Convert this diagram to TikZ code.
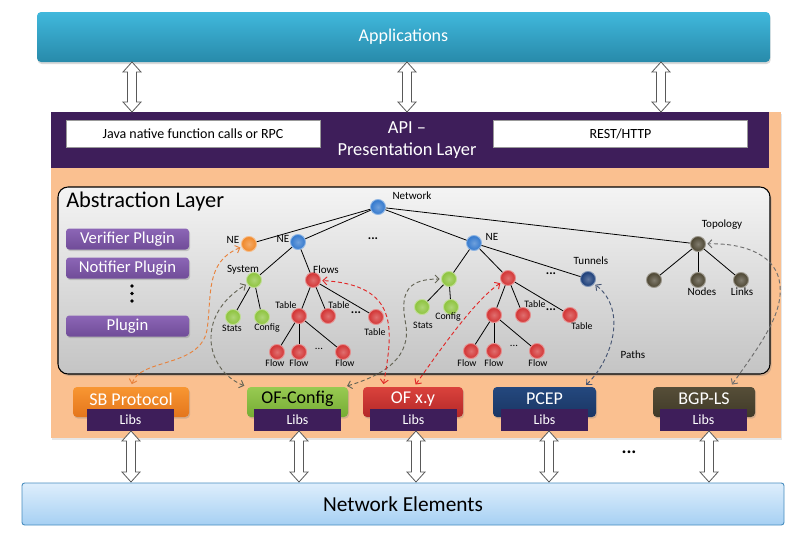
\documentclass[tikz,border=0pt]{standalone}
\usepackage{fontspec}
\setmainfont{Carlito}
\usetikzlibrary{arrows.meta,calc,shadows}
\definecolor{appTop}{RGB}{64,184,220}
\definecolor{appBot}{RGB}{40,138,170}
\definecolor{peach}{RGB}{250,192,144}
\definecolor{apiPurple}{RGB}{62,30,90}
\definecolor{plugTop}{RGB}{140,102,182}
\definecolor{plugBot}{RGB}{112,76,152}
\definecolor{nBlue}{RGB}{50,120,205}
\definecolor{nOrange}{RGB}{240,135,40}
\definecolor{nGreen}{RGB}{140,195,60}
\definecolor{nRed}{RGB}{210,50,50}
\definecolor{nNavy}{RGB}{25,60,120}
\definecolor{nOlive}{RGB}{75,68,48}
\definecolor{neTop}{RGB}{222,238,252}
\definecolor{neBot}{RGB}{166,208,243}
\definecolor{neBorder}{RGB}{70,140,190}
\definecolor{absTop}{RGB}{244,244,244}
\definecolor{absBot}{RGB}{196,196,196}
\definecolor{cOrange}{RGB}{232,130,60}
\definecolor{cGray}{RGB}{100,100,85}
\definecolor{cRed}{RGB}{225,40,40}
\definecolor{cNavy}{RGB}{70,85,115}
\definecolor{cGray2}{RGB}{110,110,110}
\newcommand\DblArr[3]{%
  \draw[dblarrow] (#1,#2) -- (#1+9,#2+10) -- (#1+4.5,#2+10) -- (#1+4.5,#3-10) -- (#1+9,#3-10)
    -- (#1,#3) -- (#1-9,#3-10) -- (#1-4.5,#3-10) -- (#1-4.5,#2+10) -- (#1-9,#2+10) -- cycle;}
\begin{document}
\begin{tikzpicture}[x=0.75pt,y=-0.75pt,
  tnode/.style={circle, inner sep=0, minimum size=11.25pt, draw=#1!55!white, line width=0.7pt,
    inner color=#1!70!white, outer color=#1},
  tlabel/.style={font=\fontsize{8.3}{10}\selectfont, inner sep=0},
  slabel/.style={font=\fontsize{7.4}{9}\selectfont, inner sep=0},
  edge/.style={line width=0.6pt, black},
  dblarrow/.style={draw=black!65, fill=white, line width=0.6pt},
  plugin/.style={rounded corners=2.5pt, top color=plugTop, bottom color=plugBot, minimum width=92.25pt,
    minimum height=15.75pt, inner sep=0, text=white, font=\fontsize{12.5}{14}\selectfont,
    drop shadow={opacity=0.35, shadow xshift=0.8pt, shadow yshift=-1.2pt}},
  proto/.style={rounded corners=3pt, minimum height=22.5pt, inner sep=0,
    drop shadow={opacity=0.3, shadow xshift=0.8pt, shadow yshift=-1.2pt}},
  ptext/.style={font=\fontsize{13.5}{15}\selectfont, inner sep=0},
  libs/.style={fill=apiPurple, minimum width=65.25pt, minimum height=16.5pt, inner sep=0,
    text=white, font=\fontsize{10.5}{12}\selectfont},
  dconn/.style={line width=0.7pt, dash pattern=on 3pt off 2pt,
    {Straight Barb[length=3pt,width=6pt]}-{Straight Barb[length=3pt,width=6pt]},
    shorten <=2pt, shorten >=1pt},
  dots/.style={font=\bfseries\fontsize{9.5}{10}\selectfont, inner sep=0},
  ldots/.style={font=\fontsize{8}{9}\selectfont, inner sep=0}
]
\useasboundingbox (0,0) rectangle (796,532);

% Applications
\node[rounded corners=3pt, top color=appTop, bottom color=appBot, minimum width=549.75pt, minimum height=37.5pt,
  inner sep=0, text=white, font=\fontsize{13.5}{16}\selectfont,
  drop shadow={opacity=0.3, shadow xshift=0.5pt, shadow yshift=-1.5pt}] (apps) at (403.5,37) {Applications};

% orange panel
\fill[peach, drop shadow={opacity=0.2, shadow xshift=1pt, shadow yshift=-1.2pt}] (51,112) rectangle (781,438);

% API layer
\node[fill=apiPurple, minimum width=538.5pt, minimum height=42pt, inner sep=0] (api) at (410,140) {};
\node[text=white, align=center, font=\fontsize{13.8}{16.5}\selectfont, inner sep=0] (apit) at (407,140) {API --\\Presentation Layer};
\node[fill=white, draw=black!40, line width=0.4pt, minimum width=190.5pt, minimum height=20.25pt, inner sep=0,
  font=\fontsize{10.5}{12}\selectfont] (java) at (193,133.5) {Java native function calls or RPC};
\node[fill=white, draw=black!40, line width=0.4pt, minimum width=190.5pt, minimum height=20.25pt, inner sep=0,
  font=\fontsize{10.5}{12}\selectfont] (rest) at (620.5,133.5) {REST/HTTP};

% top double arrows
\DblArr{132}{62}{112}
\DblArr{407}{62}{112}
\DblArr{661}{62}{112}

% Abstraction layer
\node[rounded corners=7.5pt, draw=black, line width=0.8pt, top color=absTop, bottom color=absBot,
  minimum width=534pt, minimum height=140.25pt, inner sep=0,
  drop shadow={opacity=0.35, shadow xshift=1.2pt, shadow yshift=-1.5pt}] (abs) at (414,280.5) {};
\node[anchor=west, font=\fontsize{16.8}{19}\selectfont, inner sep=0] (abst) at (66,202) {Abstraction Layer};

% plugins
\node[plugin] (p1) at (127.5,239) {Verifier Plugin};
\node[plugin] (p2) at (127.5,268) {Notifier Plugin};
\node[plugin] (p3) at (127.5,326) {Plugin};
\fill (132,286) circle (1.9);
\fill (132,293.5) circle (1.9);
\fill (132,301) circle (1.9);

% tree nodes
\node[tnode=nBlue] (net) at (378,207) {};
\node[tnode=nOrange] (neo) at (249,244) {};
\node[tnode=nBlue] (ne1) at (298,242) {};
\node[tnode=nGreen] (sys) at (254,280) {};
\node[tnode=nRed] (flo) at (313,280) {};
\node[tnode=nGreen] (st1) at (233,317) {};
\node[tnode=nGreen] (cf1) at (262,317) {};
\node[tnode=nRed] (ta1) at (299,316) {};
\node[tnode=nRed] (ta2) at (328,316) {};
\node[tnode=nRed] (ta3) at (376,317) {};
\node[tnode=nRed] (fl1) at (277,352) {};
\node[tnode=nRed] (fl2) at (299,352) {};
\node[tnode=nRed] (fl3) at (343,352) {};
\node[tnode=nBlue] (ne2) at (474,243) {};
\node[tnode=nGreen] (gr2) at (449,279) {};
\node[tnode=nRed] (rd2) at (508,278) {};
\node[tnode=nNavy] (tun) at (588,279) {};
\node[tnode=nGreen] (st2) at (422,307) {};
\node[tnode=nGreen] (cf2) at (451,307) {};
\node[tnode=nRed] (tb1) at (494,315) {};
\node[tnode=nRed] (tb2) at (523,315) {};
\node[tnode=nRed] (tb3) at (570,315) {};
\node[tnode=nRed] (fw1) at (471,351) {};
\node[tnode=nRed] (fw2) at (494,351) {};
\node[tnode=nRed] (fw3) at (537,351) {};
\node[tnode=nOlive] (top) at (698,244) {};
\node[tnode=nOlive] (tp1) at (654,280) {};
\node[tnode=nOlive] (tp2) at (698,280) {};
\node[tnode=nOlive] (tp3) at (741,280) {};

% tree edges
\draw[edge] (net) -- (neo);
\draw[edge] (net) -- (ne1);
\draw[edge] (net) -- (ne2);
\draw[edge] (net) -- (top);
\draw[edge] (ne1) -- (sys);
\draw[edge] (ne1) -- (flo);
\draw[edge] (sys) -- (st1);
\draw[edge] (sys) -- (cf1);
\draw[edge] (flo) -- (ta1);
\draw[edge] (flo) -- (ta2);
\draw[edge] (flo) -- (ta3);
\draw[edge] (ta1) -- (fl1);
\draw[edge] (ta1) -- (fl2);
\draw[edge] (ta1) -- (fl3);
\draw[edge] (ne2) -- (gr2);
\draw[edge] (ne2) -- (rd2);
\draw[edge] (ne2) -- (tun);
\draw[edge] (gr2) -- (st2);
\draw[edge] (gr2) -- (cf2);
\draw[edge] (rd2) -- (tb1);
\draw[edge] (rd2) -- (tb2);
\draw[edge] (rd2) -- (tb3);
\draw[edge] (tb1) -- (fw1);
\draw[edge] (tb1) -- (fw2);
\draw[edge] (tb1) -- (fw3);
\draw[edge] (top) -- (tp1);
\draw[edge] (top) -- (tp2);
\draw[edge] (top) -- (tp3);

% tree labels
\node[tlabel] (lnet) at (412,196) {Network};
\node[tlabel] (lneo) at (233,240) {NE};
\node[tlabel] (lne1) at (283,239) {NE};
\node[dots] (d1) at (373,239) {...};
\node[tlabel] (lsys) at (243,270) {System};
\node[tlabel] (lflo) at (326,270) {Flows};
\node[slabel] (lst1) at (232,328) {Stats};
\node[slabel] (lcf1) at (267,328) {Config};
\node[slabel] (lta1) at (286,305) {Table};
\node[slabel] (lta2) at (339,305) {Table};
\node[dots] (d2) at (356,313) {...};
\node[slabel] (lta3) at (375,332) {Table};
\node[slabel] (lfl1) at (275,363) {Flow};
\node[slabel] (lfl2) at (299,363) {Flow};
\node[slabel] (lfl3) at (345,363) {Flow};
\node[ldots] (d3) at (319,349) {...};
\node[tlabel] (lne2) at (492,237) {NE};
\node[slabel] (lst2) at (423,325) {Stats};
\node[slabel] (lcf2) at (448,317) {Config};
\node[dots] (d4) at (551,274) {...};
\node[slabel] (ltb2) at (535,304) {Table};
\node[dots] (d5) at (551,310) {...};
\node[slabel] (ltb3) at (582,326) {Table};
\node[slabel] (lfw1) at (467,363) {Flow};
\node[slabel] (lfw2) at (494,363) {Flow};
\node[slabel] (lfw3) at (538,363) {Flow};
\node[ldots] (d6) at (514,346) {...};
\node[tlabel] (ltun) at (591,261) {Tunnels};
\node[tlabel] (ltop) at (722,225) {Topology};
\node[tlabel] (ltp2) at (702,292) {Nodes};
\node[tlabel] (ltp3) at (742,292) {Links};
\node[tlabel] (lpath) at (633,355) {Paths};

% protocol boxes
\node[proto, top color={rgb,255:red,248;green,150;blue,50}, bottom color={rgb,255:red,228;green,118;blue,28}, minimum width=87pt] (sb) at (131,402) {};
\node[proto, top color={rgb,255:red,152;green,202;blue,82}, bottom color={rgb,255:red,118;green,172;blue,52}, minimum width=75.75pt] (ofc) at (297.5,402) {};
\node[proto, top color={rgb,255:red,218;green,66;blue,60}, bottom color={rgb,255:red,180;green,40;blue,40}, minimum width=75pt] (ofx) at (413,402) {};
\node[proto, top color={rgb,255:red,36;green,72;blue,126}, bottom color={rgb,255:red,26;green,54;blue,100}, minimum width=77.25pt] (pcep) at (544.5,402) {};
\node[proto, top color={rgb,255:red,86;green,78;blue,56}, bottom color={rgb,255:red,64;green,58;blue,40}, minimum width=76.5pt] (bgp) at (704,402) {};
\node[ptext, text=white] (sbt) at (131,399) {SB Protocol};
\node[ptext, text=black] (ofct) at (297.5,399) {OF-Config};
\node[ptext, text=white] (ofxt) at (413,399) {OF x.y};
\node[ptext, text=white] (pcept) at (544.5,399) {PCEP};
\node[ptext, text=white] (bgpt) at (704,399) {BGP-LS};
\node[libs] (l1) at (130.5,420) {Libs};
\node[libs] (l2) at (297.5,420) {Libs};
\node[libs] (l3) at (413.5,420) {Libs};
\node[libs] (l4) at (544.5,420) {Libs};
\node[libs] (l5) at (703.5,420) {Libs};

% dashed connectors
\draw[dconn, draw=cOrange] (sb.north) .. controls (140,358) and (200,368) .. (207,330)
   .. controls (212,295) and (205,262) .. (neo);
\draw[dconn, draw=cGray] (ofc.north west) .. controls (205,370) and (195,315) .. (sys);
\draw[dconn, draw=cGray] (ofc.18) .. controls (395,372) and (412,350) .. (405,320)
   .. controls (400,290) and (410,279) .. (gr2);
\draw[dconn, draw=cRed] (ofx.153) .. controls (393,330) and (400,285) .. (flo);
\draw[dconn, draw=cRed] (ofx.86) .. controls (440,350) and (475,300) .. (rd2);
\draw[dconn, draw=cNavy] (pcep.21) .. controls (612,360) and (628,310) .. (tun);
\draw[dconn, draw=cGray2] (bgp.30) .. controls (760,345) and (783,315) .. (780,285)
   .. controls (777,255) and (745,243) .. (top);

% bottom double arrows
\DblArr{131}{431}{482}
\DblArr{299}{431}{482}
\DblArr{416}{431}{482}
\DblArr{549}{431}{482}
\DblArr{709}{431}{482}
\node[font=\bfseries\fontsize{14}{16}\selectfont, inner sep=0] (bdots) at (629,452) {...};

% Network elements
\node[rounded corners=2pt, draw=neBorder, line width=0.7pt, top color=neTop, bottom color=neBot,
  minimum width=571.5pt, minimum height=31.5pt, inner sep=0, font=\fontsize{16}{18}\selectfont] (ne) at (403,504) {Network Elements};
\end{tikzpicture}
\end{document}
